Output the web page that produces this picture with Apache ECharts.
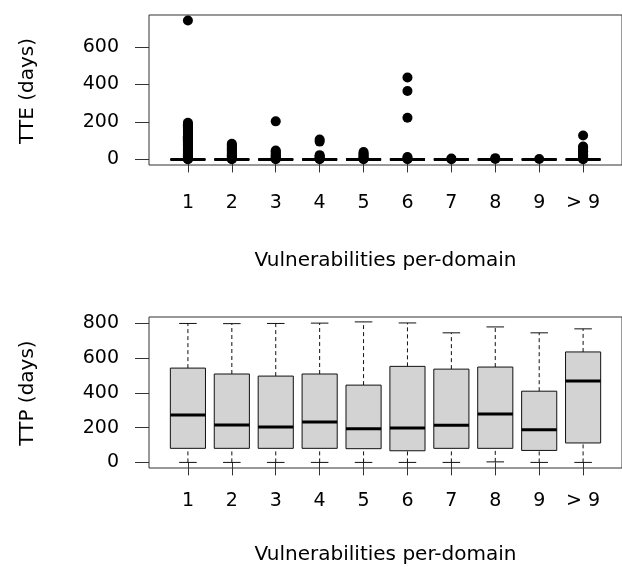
<!DOCTYPE html>
<html>
<head>
<meta charset="utf-8">
<script src="https://cdn.jsdelivr.net/npm/echarts@6/dist/echarts.min.js"></script>
<style>
html,body{margin:0;padding:0;background:#fff;}
#chart{width:622px;height:567px;}
</style>
</head>
<body>
<div id="chart"></div>
<script>
// ---- data ----
const categories = ['1', '2', '3', '4', '5', '6', '7', '8', '9', '> 9'];
const tteTicks = [0, 200, 400, 600];
const ttpTicks = [0, 200, 400, 600, 800];

// TTE box statistics (all collapsed at zero)
const tteMin    = [0, 0, 0, 0, 0, 0, 0, 0, 0, 0];
const tteQ1     = [0, 0, 0, 0, 0, 0, 0, 0, 0, 0];
const tteMedian = [0, 0, 0, 0, 0, 0, 0, 0, 0, 0];
const tteQ3     = [0, 0, 0, 0, 0, 0, 0, 0, 0, 0];
const tteMax    = [0, 0, 0, 0, 0, 0, 0, 0, 0, 0];

// TTE outliers per category
const tteOut1  = [1, 3, 6, 9, 13, 17, 21, 26, 31, 36, 41, 46, 52, 57, 62, 68, 73, 79, 84, 90, 96, 101, 107, 113, 118, 124, 130, 136, 141, 147, 153, 158, 164, 170, 176, 182, 188, 195, 740];
const tteOut2  = [1, 4, 8, 13, 18, 23, 29, 35, 41, 47, 53, 59, 66, 72, 78, 84];
const tteOut3  = [1, 5, 10, 16, 22, 29, 36, 42, 48, 203];
const tteOut4  = [1, 6, 12, 18, 23, 95, 106];
const tteOut5  = [1, 6, 12, 18, 25, 32, 39];
const tteOut6  = [1, 6, 13, 222, 365, 437];
const tteOut7  = [1, 5];
const tteOut8  = [2, 7];
const tteOut9  = [2];
const tteOut10 = [1, 5, 10, 16, 22, 29, 36, 43, 50, 57, 63, 69, 128];
const tteOutliers = [tteOut1, tteOut2, tteOut3, tteOut4, tteOut5, tteOut6, tteOut7, tteOut8, tteOut9, tteOut10];

// TTP box statistics
const ttpMin    = [0, 0, 0, 0, 0, 0, 0, 3, 0, 0];
const ttpQ1     = [81, 81, 81, 81, 79, 67, 81, 81, 69, 112];
const ttpMedian = [273, 216, 204, 233, 194, 198, 214, 279, 188, 468];
const ttpQ3     = [543, 509, 497, 509, 445, 553, 537, 549, 410, 636];
const ttpMax    = [800, 799, 800, 802, 809, 803, 746, 780, 746, 769];

// ---- build ----
const FONT = 'DejaVu Sans';
const FS = 19;
const NAME_FS = 20;
const positions = categories.map((c, i) => i + 1);

function boxData(mn, q1, md, q3, mx) {
  return positions.map((p, i) => [p, mn[i], q1[i], md[i], q3[i], mx[i]]);
}

function renderBox(params, api) {
  const x = api.value(0);
  const w = api.size([0.8, 0])[0];
  const capW = w / 2;
  const pMin = api.coord([x, api.value(1)]);
  const cx = pMin[0];
  const yMin = pMin[1];
  const yQ1 = api.coord([x, api.value(2)])[1];
  const yMed = api.coord([x, api.value(3)])[1];
  const yQ3 = api.coord([x, api.value(4)])[1];
  const yMax = api.coord([x, api.value(5)])[1];
  const dash = { stroke: '#111', lineWidth: 1, lineDash: [4, 3] };
  const solid = { stroke: '#111', lineWidth: 1 };
  return {
    type: 'group',
    children: [
      { type: 'line', shape: { x1: cx, y1: yQ3, x2: cx, y2: yMax }, style: dash },
      { type: 'line', shape: { x1: cx, y1: yMin, x2: cx, y2: yQ1 }, style: dash },
      { type: 'line', shape: { x1: cx - capW / 2, y1: yMax, x2: cx + capW / 2, y2: yMax }, style: solid },
      { type: 'line', shape: { x1: cx - capW / 2, y1: yMin, x2: cx + capW / 2, y2: yMin }, style: solid },
      { type: 'rect', shape: { x: cx - w / 2, y: yQ3, width: w, height: yQ1 - yQ3 },
        style: { fill: '#d3d3d3', stroke: '#111', lineWidth: 1 } },
      { type: 'line', shape: { x1: cx - w / 2, y1: yMed, x2: cx + w / 2, y2: yMed },
        style: { stroke: '#000', lineWidth: 3 } }
    ]
  };
}

const ttePoints = [];
tteOutliers.forEach((arr, i) => arr.forEach(v => ttePoints.push([positions[i], v])));

const nameStyle = { fontFamily: FONT, fontSize: NAME_FS, color: '#000' };

function xAxisCfg(gridIndex, labelMargin, nameGap) {
  return {
    type: 'value', gridIndex: gridIndex,
    min: 0.1136, max: 10.886,
    axisLine: { show: false },
    splitLine: { show: false },
    axisTick: { show: true, customValues: positions, length: 13, lineStyle: { color: '#333', width: 1 } },
    axisLabel: { customValues: positions, formatter: v => categories[Math.round(v) - 1],
      margin: labelMargin, fontFamily: FONT, fontSize: FS, color: '#000' },
    name: 'Vulnerabilities per-domain', nameLocation: 'middle', nameGap: nameGap,
    nameTextStyle: nameStyle
  };
}
function yAxisCfg(gridIndex, min, max, ticks) {
  return {
    type: 'value', gridIndex: gridIndex, min: min, max: max,
    axisLine: { show: false },
    splitLine: { show: false },
    axisTick: { show: true, customValues: ticks, length: 14, lineStyle: { color: '#333', width: 1 } },
    axisLabel: { customValues: ticks, margin: 30, fontFamily: FONT, fontSize: FS, color: '#000' }
  };
}

const chart = echarts.init(document.getElementById('chart'), null, { renderer: 'canvas' });
chart.setOption({
  animation: false,
  backgroundColor: '#fff',
  grid: [
    { left: 149, top: 15, width: 474, height: 150, show: true, borderColor: '#333', borderWidth: 1 },
    { left: 149, top: 317, width: 474, height: 151, show: true, borderColor: '#333', borderWidth: 1 }
  ],
  xAxis: [xAxisCfg(0, 29, 86), xAxisCfg(1, 24, 77)],
  yAxis: [yAxisCfg(0, -29.6, 769.6, tteTicks), yAxisCfg(1, -32.2, 837.2, ttpTicks)],
  graphic: [
    { type: 'text', x: 28, y: 91, rotation: Math.PI / 2,
      style: { text: 'TTE (days)', font: NAME_FS + 'px "' + FONT + '"', fill: '#000', align: 'center', verticalAlign: 'middle', textAlign: 'center', textVerticalAlign: 'middle' } },
    { type: 'text', x: 28, y: 393, rotation: Math.PI / 2,
      style: { text: 'TTP (days)', font: NAME_FS + 'px "' + FONT + '"', fill: '#000', align: 'center', verticalAlign: 'middle', textAlign: 'center', textVerticalAlign: 'middle' } }
  ],
  series: [
    { type: 'custom', xAxisIndex: 0, yAxisIndex: 0, renderItem: renderBox,
      data: boxData(tteMin, tteQ1, tteMedian, tteQ3, tteMax), silent: true },
    { type: 'scatter', xAxisIndex: 0, yAxisIndex: 0, data: ttePoints,
      symbol: 'circle', symbolSize: 10, itemStyle: { color: '#000', opacity: 1 }, silent: true },
    { type: 'custom', xAxisIndex: 1, yAxisIndex: 1, renderItem: renderBox,
      data: boxData(ttpMin, ttpQ1, ttpMedian, ttpQ3, ttpMax), silent: true }
  ]
});
</script>
</body>
</html>
